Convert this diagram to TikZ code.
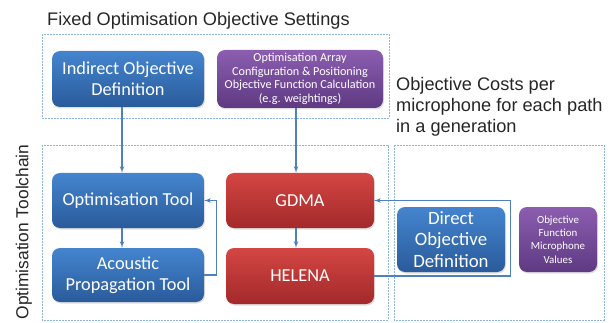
\documentclass[tikz,border=0pt]{standalone}
\usepackage{fontspec}
\setmainfont{Liberation Sans}
\newfontfamily\boxfont{Carlito}
\usepackage{tikz}
\usetikzlibrary{arrows}
\usetikzlibrary{shadows}
\definecolor{blueTop}{HTML}{4485CF}
\definecolor{blueBot}{HTML}{2A5B9B}
\definecolor{redTop}{HTML}{D44643}
\definecolor{redBot}{HTML}{A3292A}
\definecolor{purpleTop}{HTML}{8C5DB0}
\definecolor{purpleBot}{HTML}{5E3A82}
\definecolor{lineBlue}{HTML}{4F81BD}
\definecolor{groupBlue}{HTML}{8DB3E2}
\tikzstyle{every node}+=[inner sep=0pt]
\tikzstyle{block} = [rectangle, rounded corners=8pt, text=white, font=\boxfont, align=center, drop shadow={opacity=0.25, shadow xshift=1pt, shadow yshift=-1.5pt}]
\tikzstyle{blueblock} = [block, top color=blueTop, bottom color=blueBot, font=\boxfont\fontsize{18.3}{21}\selectfont]
\tikzstyle{redblock} = [block, top color=redTop, bottom color=redBot, font=\boxfont\fontsize{18.3}{21}\selectfont]
\tikzstyle{purpleblock} = [block, top color=purpleTop, bottom color=purpleBot]
\tikzstyle{group} = [draw=groupBlue, line width=0.8pt, dash pattern=on 1.6pt off 1.4pt]
\tikzstyle{line} = [draw=lineBlue, line width=1.2pt, -latex']
\tikzstyle{caption} = [font=\fontsize{18.2}{21}\selectfont, text=black!85]

\begin{document}
\begin{tikzpicture}[x=1pt, y=-1pt]
            \useasboundingbox (0,0) rectangle (610,323);
            % Group frames
            \draw [group] (42,34) rectangle (389,118);
            \draw [group] (42,145) rectangle (388,320);
            \draw [group] (394,145) rectangle (604,320);
            % Captions
            \node [caption, anchor=west] (fixedcap) at (47,21) {Fixed Optimisation Objective Settings};
            \node [caption, anchor=north west, align=left] (costcap) at (396,77) {Objective Costs per\\microphone for each path\\in a generation};
            \node [caption, rotate=90, font=\fontsize{17.4}{21}\selectfont] (chaincap) at (24,232) {Optimisation Toolchain};
            % Place nodes
            \node [blueblock, minimum width=152pt, minimum height=56pt] (indirect) at (128,79) {Indirect Objective\\Definition};
            \node [purpleblock, minimum width=166pt, minimum height=58pt, font=\boxfont\fontsize{12.2}{13.5}\selectfont] (arraycfg) at (300,79) {Optimisation Array\\Configuration \& Positioning\\Objective Function Calculation\\(e.g. weightings)};
            \node [blueblock, minimum width=152pt, minimum height=55pt] (opttool) at (128,200.5) {Optimisation Tool};
            \node [blueblock, minimum width=152pt, minimum height=54pt] (acoustic) at (128,275) {Acoustic\\Propagation Tool};
            \node [redblock, minimum width=148pt, minimum height=55pt] (gdma) at (300,200.5) {GDMA};
            \node [redblock, minimum width=148pt, minimum height=56pt] (helena) at (300,276) {HELENA};
            \node [blueblock, minimum width=108pt, minimum height=65pt, font=\boxfont\fontsize{18.8}{21.5}\selectfont] (direct) at (451,239.5) {Direct\\Objective\\Definition};
            \node [purpleblock, minimum width=78pt, minimum height=65pt, font=\boxfont\fontsize{10.9}{13.3}\selectfont] (objvalues) at (558,239.5) {Objective\\Function\\Microphone\\Values};
            % Draw edges
            \path [line] ([xshift=-6pt]indirect.south) -- ([xshift=-6pt]opttool.north);
            \path [line] ([xshift=-4pt]arraycfg.south) -- ([xshift=-4pt]gdma.north);
            \path [line] ([xshift=-6pt]opttool.south) -- ([xshift=-6pt]acoustic.north);
            \path [line] ([xshift=-4pt]gdma.south) -- ([xshift=-4pt]helena.north);
            \path [line] (acoustic.east) -- ++(12,0) |- (opttool.east);
            \path [line] (helena.east) -| ([xshift=5pt]direct.east) |- (gdma.east);
            \end{tikzpicture}
\end{document}
